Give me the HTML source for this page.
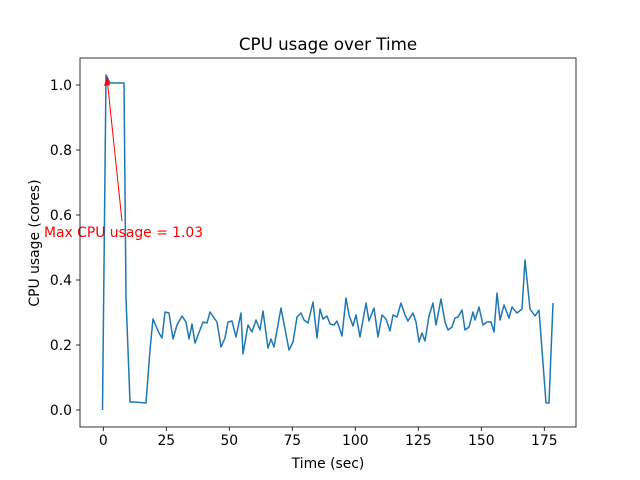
<!DOCTYPE html><html><head><style>body{margin:0;background:#fff}svg{display:block;font-family:"DejaVu Sans","Liberation Sans",sans-serif}</style></head><body>
<svg width="640" height="480" xmlns="http://www.w3.org/2000/svg">
<rect width="640" height="480" fill="#fff"/>
<polyline fill="none" stroke="#1f77b4" stroke-width="1.5" stroke-linejoin="round" points="102.5,410 106,75 110,83 124,83 126,298 130,402 134,402 146,403 150,350 153,319 159,333 162,338 165,312 169,313 173,339 177,325 182,316 186,322 189,339 192,324 195,343 203,322 207,323 210,312 217,322 221,347 225,338 228,322 232,321 236,337 241,313 243,354 248,325 252,332 256,320 260,330 263,311 268,348 271,339 274,347 281,308 289,350 293,342 297,317 301,313 304,320 308,323 313,302 317,338 320,309 323,319 327,316 330,324 334,325 337,321 342,336 346,298 349,315 353,326 356,315 360,337 366,303 369,321 374,308 378,337 382,315 386,319 390,331 393,315 397,317 401,303 405,315 408,321 413,313 416,322 419,342 422,333 425,341 429,316 433,303 436,325 441,299 445,322 448,330 452,327 455,318 458,317 462,310 465,330 469,327 473,312 475,320 479,307 483,325 487,322 491,322 494,332 497,293 500,320 504,305 509,318 512,307 517,313 522,309 525,260 530,309 535,316 539,310 546,403 549,403 553,303"/>
<line x1="122" y1="221" x2="107" y2="78" stroke="red" stroke-width="1"/>
<path d="M107,76 L104,86 L110,85 Z" fill="red"/>
<text x="44" y="237" fill="red" font-size="13.9">Max CPU usage = 1.03</text>
<rect x="80" y="58" width="496" height="369" fill="none" stroke="#000" stroke-width="0.8"/>
<g stroke="#000" stroke-width="0.8">
<line x1="103.3" y1="427" x2="103.3" y2="431"/><line x1="166.3" y1="427" x2="166.3" y2="431"/><line x1="229.3" y1="427" x2="229.3" y2="431"/><line x1="292.3" y1="427" x2="292.3" y2="431"/><line x1="355.3" y1="427" x2="355.3" y2="431"/><line x1="418.3" y1="427" x2="418.3" y2="431"/><line x1="481.3" y1="427" x2="481.3" y2="431"/><line x1="544.3" y1="427" x2="544.3" y2="431"/>
<line x1="76" y1="410" x2="80" y2="410"/><line x1="76" y1="345" x2="80" y2="345"/><line x1="76" y1="280" x2="80" y2="280"/><line x1="76" y1="215" x2="80" y2="215"/><line x1="76" y1="150" x2="80" y2="150"/><line x1="76" y1="85" x2="80" y2="85"/>
</g>
<g font-size="13.9" text-anchor="middle">
<text x="103.3" y="445">0</text><text x="166.3" y="445">25</text><text x="229.3" y="445">50</text><text x="292.3" y="445">75</text><text x="355.3" y="445">100</text><text x="418.3" y="445">125</text><text x="481.3" y="445">150</text><text x="544.3" y="445">175</text>
<text x="328" y="468">Time (sec)</text>
</g>
<g font-size="13.9" text-anchor="end">
<text x="72" y="415">0.0</text><text x="72" y="350">0.2</text><text x="72" y="285">0.4</text><text x="72" y="220">0.6</text><text x="72" y="155">0.8</text><text x="72" y="90">1.0</text>
</g>
<text transform="translate(39,243) rotate(-90)" font-size="13.9" text-anchor="middle">CPU usage (cores)</text>
<text x="328" y="50" font-size="16.7" text-anchor="middle">CPU usage over Time</text>
</svg></body></html>
